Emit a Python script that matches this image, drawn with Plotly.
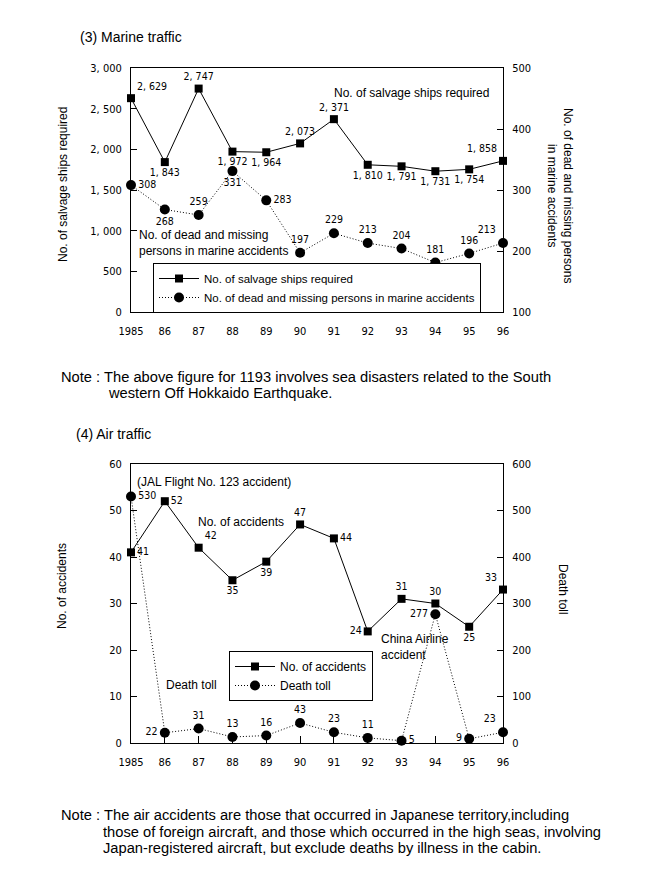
import plotly.graph_objects as go

# ---------------- data ----------------
years = list(range(1985, 1997))
year_labels = ["1985", "86", "87", "88", "89", "90", "91", "92", "93", "94", "95", "96"]

salvage_ships = [2629, 1843, 2747, 1972, 1964, 2073, 2371, 1810, 1791, 1731, 1754, 1858]
marine_dead = [308, 268, 259, 331, 283, 197, 229, 213, 204, 181, 196, 213]

air_accidents = [41, 52, 42, 35, 39, 47, 44, 24, 31, 30, 25, 33]
air_deaths = [530, 22, 31, 13, 16, 43, 23, 11, 5, 277, 9, 23]

left_ticks_top = [0, 500, 1000, 1500, 2000, 2500, 3000]
right_ticks_top = [100, 200, 300, 400, 500]
left_ticks_bot = [0, 10, 20, 30, 40, 50, 60]
right_ticks_bot = [0, 100, 200, 300, 400, 500, 600]

# ---------------- styling ----------------
NUM = "Liberation Sans Narrow, DejaVu Sans Condensed, Arial Narrow, Liberation Sans, sans-serif"
TXT = "Liberation Sans, Arial, sans-serif"
NS = 10.5           # number font size
OFF = 8             # page body margin offset
DOT = "1px,2px"
W, H = 650 - OFF, 879 - OFF
L, T = 131 - OFF, 68 - OFF
R = W - (503 - OFF)
B = H - (743 - OFF)
PW = W - L - R
PH = H - T - B


def px(x):
    return (x - OFF - L) / PW


def py(y):
    return (H - B - (y - OFF)) / PH


def fmt(v):
    return "{:,}".format(v).replace(",", ", ")


top_dom = [py(312), 1.0]
bot_dom = [0.0, py(464)]

sal_pos = ["top right", "bottom center", "top center", "bottom center", "bottom center",
           "top center", "top center", "bottom center", "bottom center", "bottom center",
           "bottom center", "top left"]
dead_pos = ["middle right", "bottom center", "top center", "bottom center", "middle right",
            "top center", "top center", "top center", "top center", "top center",
            "top center", "top left"]
acc_pos = ["middle right", "middle right", "top right", "bottom center", "bottom center",
           "top center", "middle right", "middle left", "top center", "top center",
           "bottom center", "top left"]
death_pos = ["middle right", "middle left", "top center", "top center", "top center",
             "top center", "top center", "top center", "middle right", "middle left",
             "middle left", "top left"]

fig = go.Figure()

fig.add_trace(go.Scatter(
    x=years, y=salvage_ships, xaxis="x", yaxis="y", name="No. of salvage ships required",
    mode="lines+markers+text", text=[fmt(v) for v in salvage_ships], textposition=sal_pos,
    textfont=dict(family=NUM, size=NS, color="black"),
    line=dict(color="black", width=1), marker=dict(symbol="square", size=8, color="black"),
    cliponaxis=False, legend="legend"))
fig.add_trace(go.Scatter(
    x=years, y=marine_dead, xaxis="x", yaxis="y2",
    name="No. of dead and missing persons in marine accidents",
    mode="lines+markers+text", text=[fmt(v) for v in marine_dead], textposition=dead_pos,
    textfont=dict(family=NUM, size=NS, color="black"),
    line=dict(color="black", width=1, dash=DOT), marker=dict(symbol="circle", size=10, color="black"),
    cliponaxis=False, legend="legend"))

fig.add_trace(go.Scatter(
    x=years, y=air_accidents, xaxis="x2", yaxis="y3", name="No. of accidents",
    mode="lines+markers+text", text=[str(v) for v in air_accidents], textposition=acc_pos,
    textfont=dict(family=NUM, size=NS, color="black"),
    line=dict(color="black", width=1), marker=dict(symbol="square", size=8, color="black"),
    cliponaxis=False, legend="legend2"))
fig.add_trace(go.Scatter(
    x=years, y=air_deaths, xaxis="x2", yaxis="y4", name="Death toll",
    mode="lines+markers+text", text=[str(v) for v in air_deaths], textposition=death_pos,
    textfont=dict(family=NUM, size=NS, color="black"),
    line=dict(color="black", width=1, dash=DOT), marker=dict(symbol="circle", size=10, color="black"),
    cliponaxis=False, legend="legend2"))

xcommon = dict(range=[1985, 1996], tickvals=years, ticktext=year_labels, ticks="inside",
               ticklen=7, tickcolor="black", showline=True, linecolor="black", linewidth=1,
               mirror=True, showgrid=False, zeroline=False, ticklabelstandoff=9,
               tickfont=dict(family=NUM, size=NS + 0.5, color="black"))
ycommon = dict(ticks="inside", ticklen=6, tickcolor="black", showline=True, linecolor="black",
               linewidth=1, showgrid=False, zeroline=False, ticklabelstandoff=6,
               tickfont=dict(family=NUM, size=NS + 0.5, color="black"))

fig.update_layout(
    width=W, height=H, margin=dict(l=L, r=R, t=T, b=B),
    paper_bgcolor="white", plot_bgcolor="white",
    xaxis=dict(domain=[0, 1], anchor="y", **xcommon),
    yaxis=dict(domain=top_dom, anchor="x", range=[0, 3000], tickvals=left_ticks_top,
               ticktext=[fmt(v) for v in left_ticks_top], **ycommon),
    yaxis2=dict(overlaying="y", side="right", anchor="x", range=[100, 500],
                tickvals=right_ticks_top, **ycommon),
    xaxis2=dict(domain=[0, 1], anchor="y3", **xcommon),
    yaxis3=dict(domain=bot_dom, anchor="x2", range=[0, 60], tickvals=left_ticks_bot, **ycommon),
    yaxis4=dict(overlaying="y3", side="right", anchor="x2", range=[0, 600],
                tickvals=right_ticks_bot, **ycommon),
    legend=dict(x=px(153), y=py(263), xanchor="left", yanchor="top", bgcolor="white",
                bordercolor="black", borderwidth=1, itemwidth=40,
                font=dict(family=TXT, size=11.5, color="black"), tracegroupgap=0),
    legend2=dict(x=px(229), y=py(651), xanchor="left", yanchor="top", bgcolor="white",
                 bordercolor="black", borderwidth=1, itemwidth=40,
                 font=dict(family=TXT, size=12, color="black"), tracegroupgap=0),
    showlegend=True,
)


def ann(text, x, y, size=12, xanchor="left", yanchor="middle", angle=0, align="left", family=TXT):
    fig.add_annotation(text=text, x=px(x), y=py(y), xref="paper", yref="paper",
                       xanchor=xanchor, yanchor=yanchor, textangle=angle, align=align,
                       showarrow=False, font=dict(family=family, size=size, color="black"))


# section titles
ann("(3) Marine traffic", 78, 37, size=14)
ann("(4) Air traffic", 74, 434, size=14)

# axis titles
ann("No. of salvage ships required", 63, 185, size=12, xanchor="center", angle=-90)
ann("No. of dead and missing persons<br>in marine accidents", 560, 195, size=12,
    xanchor="center", yanchor="middle", angle=90, align="center")
ann("No. of accidents", 62, 586, size=12, xanchor="center", angle=-90)
ann("Death toll", 563, 589, size=12, xanchor="center", angle=90)

# in-chart labels
ann("No. of salvage ships required", 332, 93, size=12)
ann("No. of dead and missing<br>persons in marine accidents", 137, 243, size=12)
ann("(JAL Flight No. 123 accident)", 135, 482, size=12)
ann("No. of accidents", 196, 522, size=12)
ann("Death toll", 164, 685, size=12)
ann("China Airline<br>accident", 379, 647, size=12)

# notes
ann("Note : The above figure for 1193 involves sea disasters related to the South", 59, 377, size=14.7)
ann("western Off Hokkaido Earthquake.", 106, 393, size=14.7)
ann("Note : The air accidents are those that occurred in Japanese territory,including", 59, 815, size=14.7)
ann("those of foreign aircraft, and those which occurred in the high seas, involving", 101, 832, size=14.7)
ann("Japan-registered aircraft, but exclude deaths by illness in the cabin.", 101, 848, size=14.7)

fig.write_html("out.html")
